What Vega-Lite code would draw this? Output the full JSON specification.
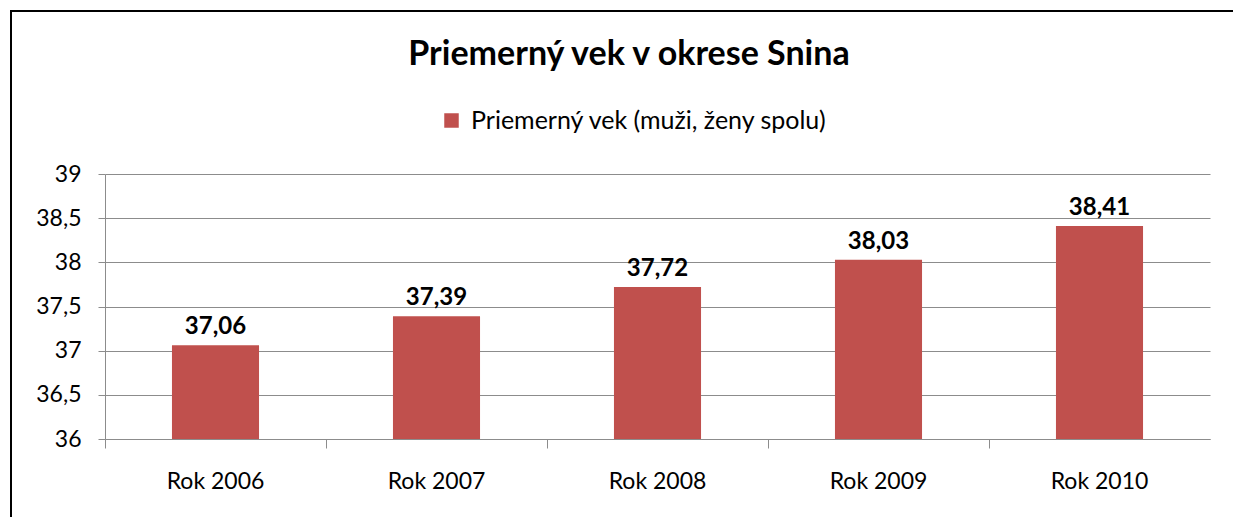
{
  "$schema": "https://vega.github.io/schema/vega-lite/v6.json",
  "width": 1224,
  "height": 508,
  "autosize": {"type": "none"},
  "padding": {"left": 11, "top": 11, "right": -2, "bottom": -2},
  "background": "white",
  "title": {
    "text": "Priemerný vek v okrese Snina",
    "font": "Lato",
    "fontSize": 34,
    "fontWeight": "bold",
    "color": "#000000",
    "anchor": "middle",
    "frame": "group",
    "orient": "top",
    "baseline": "alphabetic",
    "offset": -88,
    "dx": 6
  },
  "data": {
    "values": [
      {"rok": "Rok 2006", "vek": 37.06, "rad": "Priemerný vek (muži, ženy spolu)"},
      {"rok": "Rok 2007", "vek": 37.39, "rad": "Priemerný vek (muži, ženy spolu)"},
      {"rok": "Rok 2008", "vek": 37.72, "rad": "Priemerný vek (muži, ženy spolu)"},
      {"rok": "Rok 2009", "vek": 38.03, "rad": "Priemerný vek (muži, ženy spolu)"},
      {"rok": "Rok 2010", "vek": 38.41, "rad": "Priemerný vek (muži, ženy spolu)"}
    ]
  },
  "encoding": {
    "x": {
      "field": "rok",
      "type": "nominal",
      "sort": null,
      "scale": {"range": [94, 1199], "paddingInner": 0, "paddingOuter": 0},
      "axis": {
        "title": null,
        "orient": "bottom",
        "offset": -80,
        "labelAngle": 0,
        "bandPosition": 0,
        "tickExtra": false,
        "tickSize": 9,
        "tickColor": "#8c8c8c",
        "tickWidth": 1,
        "domain": true,
        "domainColor": "#8c8c8c",
        "domainWidth": 1,
        "grid": false,
        "labelFont": "Lato",
        "labelFontSize": 23,
        "labelColor": "#000000",
        "labelPadding": 22,
        "labelBaseline": "top"
      }
    },
    "y": {
      "field": "vek",
      "type": "quantitative",
      "scale": {"domain": [36, 39], "range": [428, 163], "zero": false, "nice": false},
      "axis": {
        "title": null,
        "offset": -94,
        "values": [36, 36.5, 37, 37.5, 38, 38.5, 39],
        "format": "~g",
        "tickSize": 7,
        "tickColor": "#8c8c8c",
        "domainColor": "#8c8c8c",
        "grid": true,
        "gridColor": "#8c8c8c",
        "gridWidth": 1,
        "labelFont": "Lato",
        "labelFontSize": 23,
        "labelColor": "#000000",
        "labelPadding": 17
      }
    }
  },
  "layer": [
    {
      "mark": {"type": "bar", "width": {"band": 0.394}, "clip": false},
      "encoding": {
        "y2": {"datum": 36},
        "color": {
          "field": "rad",
          "type": "nominal",
          "scale": {"range": ["#C0504D"]},
          "legend": {
            "title": null,
            "orient": "none",
            "legendX": 428,
            "legendY": 97,
            "direction": "horizontal",
            "padding": 0,
            "symbolType": "square",
            "symbolSize": 210,
            "symbolStrokeWidth": 0,
            "symbolOpacity": 1,
            "labelFont": "Lato",
            "labelFontSize": 25,
            "labelColor": "#000000",
            "labelOffset": 7,
            "labelLimit": 800
          }
        }
      }
    },
    {
      "mark": {
        "type": "text",
        "font": "Lato",
        "fontSize": 24,
        "fontWeight": "bold",
        "color": "#000000",
        "baseline": "alphabetic",
        "dy": -11
      },
      "encoding": {
        "text": {"field": "vek", "type": "quantitative", "format": ".2f"}
      }
    }
  ],
  "config": {
    "locale": {
      "number": {"decimal": ",", "thousands": "\u00a0", "grouping": [3], "currency": ["", "\u00a0€"]}
    },
    "view": {"stroke": "#000000", "strokeWidth": 2, "fill": "white"}
  }
}
